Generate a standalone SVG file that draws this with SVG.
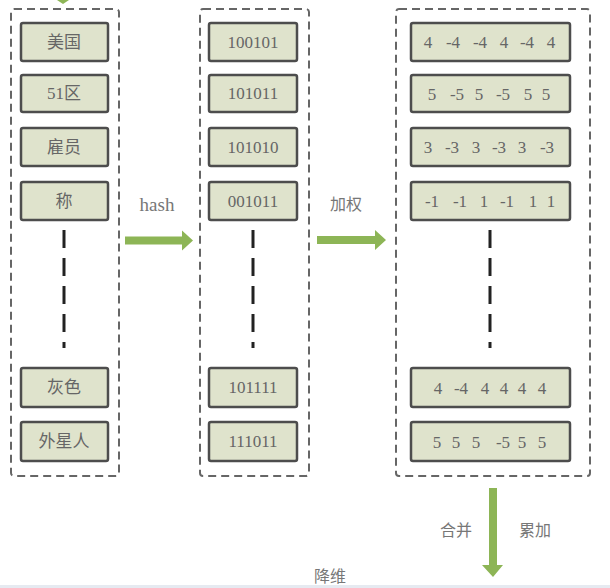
<svg xmlns="http://www.w3.org/2000/svg" width="610" height="588" viewBox="0 0 610 588">
<style>
.box{fill:none;stroke:#666;stroke-width:2;stroke-dasharray:8 5}
.node{fill:#dfe3cc;stroke:#4d4d4d;stroke-width:2.5}
.t{font-family:"Liberation Serif","Noto Sans CJK SC",serif;font-size:17px;fill:#666;text-anchor:middle;dominant-baseline:central}
.lbl{font-family:"Liberation Serif","Noto Sans CJK SC",serif;font-size:16px;fill:#777;text-anchor:middle;dominant-baseline:central}
.vd{stroke:#222;stroke-width:3;stroke-dasharray:18 10;fill:none}
.arr{fill:#8db556}
</style>
<rect x="0" y="0" width="610" height="588" fill="#fff"/>
<g id="col1">
<rect class="box" x="11" y="9" width="108" height="467" rx="3"/>
<line class="vd" x1="64" y1="230" x2="64" y2="348"/>
</g>
<g id="col2">
<rect class="box" x="200" y="9" width="109" height="467" rx="3"/>
<line class="vd" x1="253" y1="230" x2="253" y2="348"/>
</g>
<g id="col3">
<rect class="box" x="396" y="9" width="194" height="467" rx="3"/>
<line class="vd" x1="490" y1="230" x2="490" y2="348"/>
</g>
<g id="n-a1"><rect class="node" x="21" y="23" width="87" height="38" rx="2"/><text class="t" x="64" y="42">美国</text></g>
<g id="n-a2"><rect class="node" x="21" y="75" width="87" height="37" rx="2"/><text class="t" x="64" y="93.5">51区</text></g>
<g id="n-a3"><rect class="node" x="21" y="128" width="87" height="38" rx="2"/><text class="t" x="64" y="147">雇员</text></g>
<g id="n-a4"><rect class="node" x="21" y="182" width="87" height="38" rx="2"/><text class="t" x="64" y="201">称</text></g>
<g id="n-a5"><rect class="node" x="21" y="368" width="87" height="39" rx="2"/><text class="t" x="64" y="387.5">灰色</text></g>
<g id="n-a6"><rect class="node" x="21" y="422" width="87" height="39" rx="2"/><text class="t" x="64" y="441.5">外星人</text></g>
<g id="n-b1"><rect class="node" x="209" y="23" width="88" height="38" rx="2"/><text class="t" x="253" y="42">100101</text></g>
<g id="n-b2"><rect class="node" x="209" y="75" width="88" height="37" rx="2"/><text class="t" x="253" y="93.5">101011</text></g>
<g id="n-b3"><rect class="node" x="209" y="128" width="88" height="38" rx="2"/><text class="t" x="253" y="147">101010</text></g>
<g id="n-b4"><rect class="node" x="209" y="182" width="88" height="38" rx="2"/><text class="t" x="253" y="201">001011</text></g>
<g id="n-b5"><rect class="node" x="209" y="368" width="88" height="39" rx="2"/><text class="t" x="253" y="387.5">101111</text></g>
<g id="n-b6"><rect class="node" x="209" y="422" width="88" height="39" rx="2"/><text class="t" x="253" y="441.5">111011</text></g>
<g id="n-c1"><rect class="node" x="411" y="23" width="159" height="38" rx="2"/><text class="t" y="42"><tspan x="428">4</tspan><tspan x="453">-4</tspan><tspan x="480">-4</tspan><tspan x="504">4</tspan><tspan x="527">-4</tspan><tspan x="551">4</tspan></text></g>
<g id="n-c2"><rect class="node" x="411" y="75" width="159" height="37" rx="2"/><text class="t" y="93.5"><tspan x="432">5</tspan><tspan x="457">-5</tspan><tspan x="479">5</tspan><tspan x="503">-5</tspan><tspan x="528">5</tspan><tspan x="546">5</tspan></text></g>
<g id="n-c3"><rect class="node" x="411" y="128" width="159" height="38" rx="2"/><text class="t" y="147"><tspan x="428">3</tspan><tspan x="452">-3</tspan><tspan x="476">3</tspan><tspan x="499">-3</tspan><tspan x="522">3</tspan><tspan x="547">-3</tspan></text></g>
<g id="n-c4"><rect class="node" x="411" y="182" width="159" height="38" rx="2"/><text class="t" y="201"><tspan x="432">-1</tspan><tspan x="460">-1</tspan><tspan x="484">1</tspan><tspan x="507">-1</tspan><tspan x="533">1</tspan><tspan x="551">1</tspan></text></g>
<g id="n-c5"><rect class="node" x="411" y="368" width="159" height="39" rx="2"/><text class="t" y="387.5"><tspan x="438">4</tspan><tspan x="461">-4</tspan><tspan x="485">4</tspan><tspan x="504">4</tspan><tspan x="522">4</tspan><tspan x="542">4</tspan></text></g>
<g id="n-c6"><rect class="node" x="411" y="422" width="159" height="39" rx="2"/><text class="t" y="441.5"><tspan x="437">5</tspan><tspan x="456">5</tspan><tspan x="476">5</tspan><tspan x="503">-5</tspan><tspan x="522">5</tspan><tspan x="542">5</tspan></text></g>
<g id="connectors">
<polygon class="arr" points="57,0 69,0 63,4"/>
<polygon class="arr" points="125,236.5 182,236.5 182,230.5 193,240.5 182,250.5 182,244.5 125,244.5"/>
<polygon class="arr" points="317,236 375,236 375,230 386,240 375,250 375,244 317,244"/>
<polygon class="arr" points="489,488 497,488 497,565 503,565 493,577 482,565 489,565"/>
<text class="lbl" x="157" y="204" style="font-size:19px">hash</text>
<text class="lbl" x="346" y="204">加权</text>
<text class="lbl" x="456" y="530">合并</text>
<text class="lbl" x="535" y="530">累加</text>
<text class="lbl" x="330" y="576">降维</text>
</g>
<rect x="0" y="585" width="610" height="3" fill="#e6eaf1"/>
</svg>
